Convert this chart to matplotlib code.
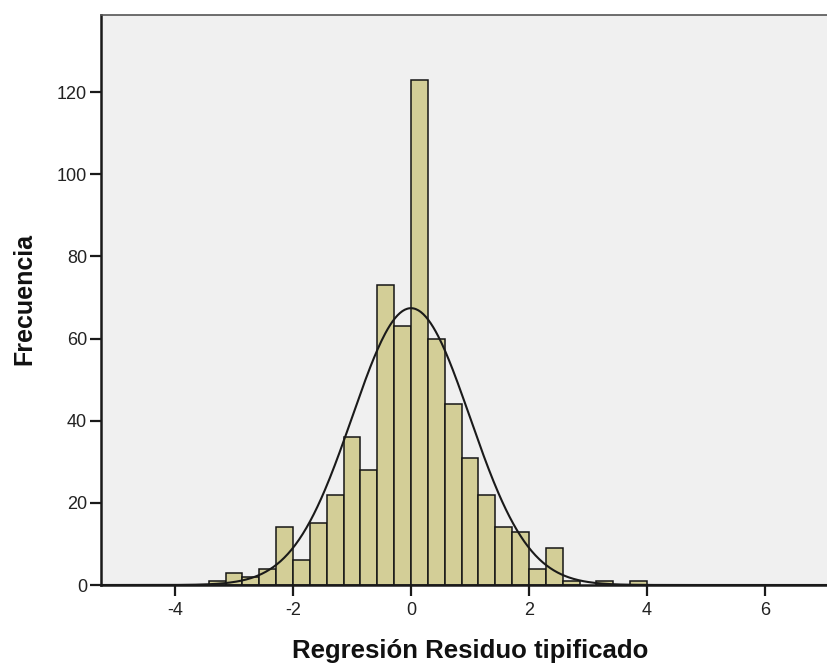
import numpy as np
import matplotlib
matplotlib.use("Agg")
import matplotlib.pyplot as plt

# Histogram of standardized regression residuals (bin width 2/7)
bin_width = 2.0 / 7.0
first_edge_index = -12  # left edge of first bin = -12 * bin_width
counts = [1, 3, 2, 4, 14, 6, 15, 22, 36, 28, 73, 63,
          123, 60, 44, 31, 22, 14, 13, 4, 9, 1, 0, 1, 0, 1]
x_ticks = [-4, -2, 0, 2, 4, 6]
y_ticks = [0, 20, 40, 60, 80, 100, 120]
curve_mean = 0.0
curve_sd = 0.998

plt.rcParams['font.family'] = ['Liberation Sans', 'DejaVu Sans']
plt.rcParams['axes.unicode_minus'] = False

W, H = 828, 668
fig = plt.figure(figsize=(W / 100, H / 100), dpi=100)
fig.patch.set_facecolor('white')

left_px, right_px, top_px, bottom_px = 101, 830, 15, 585
ax = fig.add_axes([left_px / W, 1 - bottom_px / H,
                   (right_px - left_px) / W, (bottom_px - top_px) / H])
ax.set_facecolor('#F0F0F0')

edges = (np.arange(len(counts) + 1) + first_edge_index) * bin_width
lefts = edges[:-1]
for l, c in zip(lefts, counts):
    if c > 0:
        ax.bar(l, c, width=bin_width, align='edge', color='#D3CE97',
               edgecolor='#151515', linewidth=1.1, zorder=2)

n_total = sum(counts)
xs = np.linspace(-5.3, 7.2, 600)
ys = n_total * bin_width / (curve_sd * np.sqrt(2 * np.pi)) * \
    np.exp(-0.5 * ((xs - curve_mean) / curve_sd) ** 2)
ax.plot(xs, ys, color='#1a1a1a', linewidth=1.5, zorder=3)

# axis ranges derived from the pixel layout (59 px per x unit, ~4.108 px per y unit)
x_left = -4 - (175 - left_px) / 59.0
x_right = -4 + (right_px - 175) / 59.0
ax.set_xlim(x_left, x_right)
ax.set_ylim(0, (bottom_px - top_px) / 4.108)

ax.set_xticks(x_ticks)
ax.set_yticks(y_ticks)
ax.tick_params(axis='both', direction='out', length=8, width=1.6,
               colors='#1a1a1a', labelsize=13, labelcolor='#222222')
ax.tick_params(axis='x', pad=4)
ax.tick_params(axis='y', pad=2)

for s in ['left', 'bottom']:
    ax.spines[s].set_linewidth(1.8)
    ax.spines[s].set_color('#1a1a1a')
ax.spines['top'].set_linewidth(1.2)
ax.spines['top'].set_color('#555555')
ax.spines['right'].set_visible(False)

fig.text(470 / W, 1 - 651 / H, 'Regresión Residuo tipificado',
         ha='center', va='center', fontsize=18.5, fontweight='bold', color='#111111')
fig.text(24 / W, 1 - 299 / H, 'Frecuencia', ha='center', va='center',
         rotation=90, fontsize=18, fontweight='bold', color='#111111')

fig.savefig('out.png', dpi=100)
